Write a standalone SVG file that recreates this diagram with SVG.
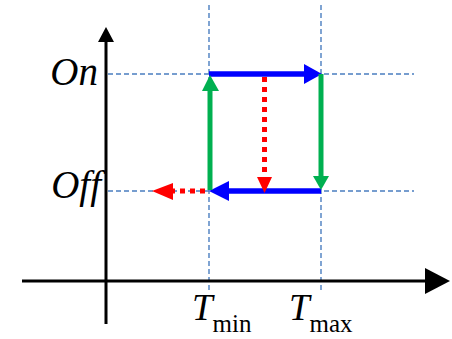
<svg xmlns="http://www.w3.org/2000/svg" width="452" height="339" viewBox="0 0 452 339">
<style>
.grid{stroke:#4A7EC0;stroke-width:1.4;stroke-dasharray:5 3;fill:none}
.axis{stroke:#000;stroke-width:3;fill:none}
.blue{stroke:#0000FF;stroke-width:5.5;fill:none}
.green{stroke:#00B050;stroke-width:5;fill:none}
.red{stroke:#FF0000;stroke-width:5;stroke-dasharray:5 5;fill:none}
.lbl{font-family:"Liberation Serif","Times New Roman",serif;fill:#000}
.it{font-style:italic;font-size:39px}
.tt{font-style:italic;font-size:37px}
.sub{font-size:25px}
</style>
<rect width="452" height="339" fill="#fff"/>
<g id="grid">
<line class="grid" x1="209" y1="5" x2="209" y2="290"/>
<line class="grid" x1="321" y1="5" x2="321" y2="290"/>
<line class="grid" x1="108" y1="74" x2="414" y2="74"/>
<line class="grid" x1="108" y1="191" x2="414" y2="191"/>
</g>
<g id="axes">
<line class="axis" x1="106" y1="324" x2="106" y2="40"/>
<polygon points="98,42 106,27 114,42" fill="#000"/>
<line class="axis" x1="22" y1="281" x2="427" y2="281"/>
<polygon points="425,268 450,281 425,294" fill="#000"/>
</g>
<g id="connectors">
<line class="blue" x1="209" y1="74" x2="306" y2="74"/>
<polygon points="304,64 322,74 304,84" fill="#0000FF"/>
<line class="blue" x1="321" y1="191" x2="227" y2="191"/>
<polygon points="229,181 209,191 229,201" fill="#0000FF"/>
<line class="green" x1="210" y1="190" x2="210" y2="89"/>
<polygon points="202,91 210,75 219,91" fill="#00B050"/>
<line class="green" x1="321" y1="74" x2="321" y2="178"/>
<polygon points="313,176 321,190 329,176" fill="#00B050"/>
<line class="red" x1="264.5" y1="77" x2="264.5" y2="177"/>
<polygon points="257,177 264.5,193 272,177" fill="#FF0000"/>
<line class="red" x1="205" y1="191" x2="172" y2="191"/>
<polygon points="173,183 152,191 173,200" fill="#FF0000"/>
</g>
<g id="labels">
<text class="lbl it" x="98" y="85" text-anchor="end">On</text>
<text class="lbl it" x="101" y="198" text-anchor="end">Off</text>
<text class="lbl" x="192" y="320"><tspan class="tt">T</tspan><tspan class="sub" dy="12">min</tspan></text>
<text class="lbl" x="289" y="320"><tspan class="tt">T</tspan><tspan class="sub" dy="12">max</tspan></text>
</g>
</svg>
